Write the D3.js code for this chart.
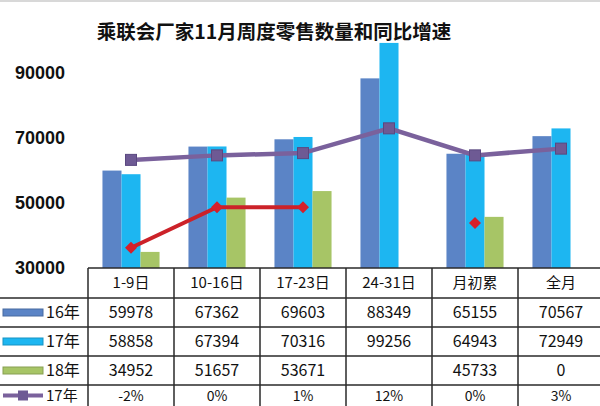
<!DOCTYPE html>
<html><head><meta charset="utf-8">
<script src="https://cdn.jsdelivr.net/npm/d3@7"></script>
<style>
html,body{margin:0;padding:0;background:#fff;}
svg{display:block;font-family:"Noto Sans CJK SC","Noto Sans",sans-serif;}
</style></head>
<body>
<svg id="c" width="600" height="406"></svg>
<script>
const title = "乘联会厂家11月周度零售数量和同比增速";
const categories = ["1-9日","10-16日","17-23日","24-31日","月初累","全月"];
const seriesNames = ["16年","17年","18年"];
const sales16 = [59978,67362,69603,88349,65155,70567];
const sales17 = [58858,67394,70316,99256,64943,72949];
const sales18 = [34952,51657,53671,null,45733,0];
const growth17 = [-2,0,1,12,0,3];          // 17年 同比 (%)
const growth18 = [-41,-23,-23,null,-30,null]; // 18年 同比 (%), its table row is cut off in the picture
const growth17Labels = ["-2%","0%","1%","12%","0%","3%"];
const yTicks = [30000,50000,70000,90000];

const colors = {"16年":"#5b84c6","17年":"#1db6f1","18年":"#a7c566"};
const lineColor17 = "#7a619c";
const lineColor18 = "#cc2229";

const svg = d3.select("#c");
const plotTop = 40.5, plotBottom = 268;
const x = d3.scaleBand().domain(categories).range([88,604]).padding(0);
const xs = d3.scaleBand().domain(seriesNames).range([0,x.bandwidth()]).paddingInner(0).paddingOuter(0.76);
const y = d3.scaleLinear().domain([30000,100000]).range([plotBottom,plotTop]);
const y2 = d3.scaleLinear().domain([-50,51]).range([plotBottom,plotTop]);

// top gray rule
svg.append("line").attr("x1",0).attr("x2",600).attr("y1",1).attr("y2",1).attr("stroke","#d8d8d8").attr("stroke-width",2);

// title
svg.append("text").attr("x",274).attr("y",39).attr("text-anchor","middle")
  .attr("font-size",19.5).attr("font-weight","bold").attr("fill","#111").text(title);

// y axis labels
const yAxis = d3.axisLeft(y).tickValues(yTicks).tickSize(0).tickPadding(0).tickFormat(d3.format("d"));
const ya = svg.append("g").attr("transform","translate(65,0)").call(yAxis);
ya.select(".domain").remove();
ya.selectAll("text").attr("font-size",18).attr("font-weight","bold").attr("fill","#111")
  .attr("font-family","'Liberation Sans',Arial,sans-serif");

// bars
const seriesData = {"16年":sales16,"17年":sales17,"18年":sales18};
seriesNames.forEach(s=>{
  svg.append("g").selectAll("rect")
    .data(categories.map((c,i)=>({c,v:seriesData[s][i]})).filter(d=>d.v!=null && d.v>30000))
    .join("rect")
    .attr("x",d=>x(d.c)+xs(s))
    .attr("width",xs.bandwidth())
    .attr("y",d=>y(d.v))
    .attr("height",d=>plotBottom-y(d.v))
    .attr("fill",colors[s]);
});

// lines
const cx = c=>x(c)+x.bandwidth()/2;
const line2 = d3.line().defined(d=>d.v!=null).x(d=>cx(d.c)).y(d=>y2(d.v));
const g17 = categories.map((c,i)=>({c,v:growth17[i]}));
const g18 = categories.map((c,i)=>({c,v:growth18[i]}));
svg.append("path").datum(g18).attr("d",line2).attr("fill","none").attr("stroke",lineColor18).attr("stroke-width",4);
svg.append("g").selectAll("path").data(g18.filter(d=>d.v!=null)).join("path")
  .attr("d",d3.symbol(d3.symbolSquare,72)())
  .attr("transform",d=>`translate(${cx(d.c)},${y2(d.v)}) rotate(45)`)
  .attr("fill","#d61f2a");
svg.append("path").datum(g17).attr("d",line2).attr("fill","none").attr("stroke",lineColor17).attr("stroke-width",4.5);
svg.append("g").selectAll("rect").data(g17).join("rect")
  .attr("x",d=>cx(d.c)-5.5).attr("y",d=>y2(d.v)-5.5).attr("width",11).attr("height",11)
  .attr("fill","#6e5a94").attr("stroke","#5a4880").attr("stroke-width",1);

// table
const rowY = [268,298,327,356,385,406];
const tbl = svg.append("g").attr("stroke","#2a2a2a").attr("stroke-width",1.5);
tbl.append("line").attr("x1",88).attr("x2",604).attr("y1",rowY[0]).attr("y2",rowY[0]);
rowY.slice(1,5).forEach(yy=>tbl.append("line").attr("x1",0).attr("x2",604).attr("y1",yy).attr("y2",yy));
categories.forEach(c=>tbl.append("line").attr("x1",x(c)).attr("x2",x(c)).attr("y1",rowY[0]).attr("y2",406));

const cellText = (txt,cxp,row,size)=>svg.append("text").attr("x",cxp).attr("y",(rowY[row]+rowY[row+1])/2)
  .attr("dy","0.36em").attr("text-anchor","middle").attr("font-size",size).attr("fill","#111").text(txt);

categories.forEach((c,i)=>{
  cellText(c,cx(c),0,15);
  cellText(sales16[i],cx(c),1,16);
  cellText(sales17[i],cx(c),2,16);
  cellText(sales18[i]==null?"":sales18[i],cx(c),3,16);
  cellText(growth17Labels[i],cx(c),4,14);
});

// legend cells
const legendRows = [{n:"16年",c:colors["16年"],row:1},{n:"17年",c:colors["17年"],row:2},{n:"18年",c:colors["18年"],row:3}];
legendRows.forEach(l=>{
  const cy=(rowY[l.row]+rowY[l.row+1])/2;
  svg.append("rect").attr("x",3).attr("y",cy-3.5).attr("width",40).attr("height",7).attr("fill",l.c)
    .attr("stroke",d3.color(l.c).darker(0.6)).attr("stroke-width",1);
  svg.append("text").attr("x",46).attr("y",cy).attr("dy","0.36em").attr("font-size",16).attr("fill","#111").text(l.n);
});
{
  const cy=(rowY[4]+rowY[5])/2;
  svg.append("line").attr("x1",3).attr("x2",43).attr("y1",cy).attr("y2",cy).attr("stroke",lineColor17).attr("stroke-width",4);
  svg.append("rect").attr("x",18).attr("y",cy-5).attr("width",10).attr("height",10).attr("fill","#6e5a94");
  svg.append("text").attr("x",46).attr("y",cy).attr("dy","0.36em").attr("font-size",15).attr("fill","#111").text("17年");
}
</script>
</body></html>
